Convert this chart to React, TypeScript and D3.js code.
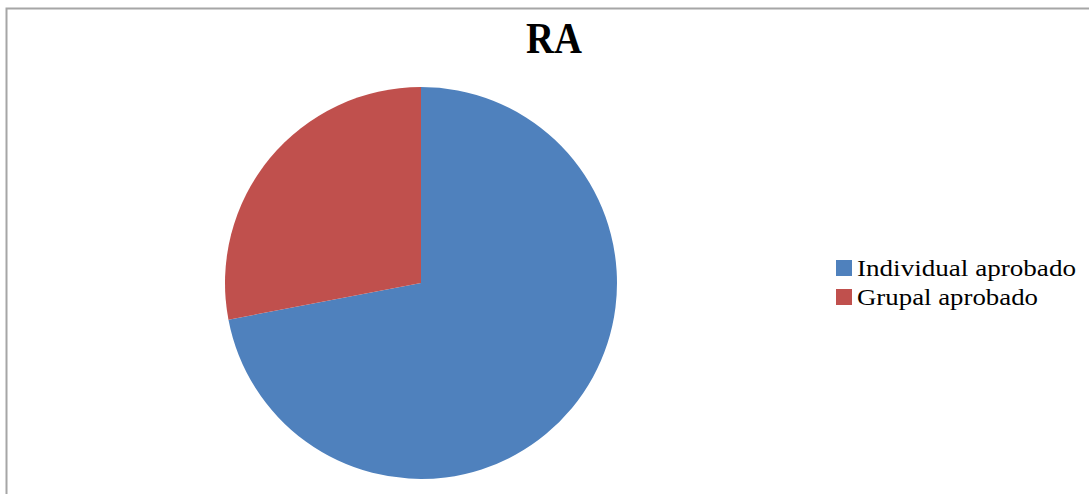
import React from "react";
import * as d3 from "d3";

const categories = ["Individual aprobado", "Grupal aprobado"];
const values = [72, 28];
const colors = ["#4F81BD", "#C0504D"];
const title = "RA";

export default function App() {
  const W = 1089, H = 494;
  const cx = 421, cy = 283, r = 196;
  const pie = d3.pie<number>().sort(null).startAngle(0).endAngle(2 * Math.PI);
  const arcs = pie(values);
  const arcGen = d3.arc<d3.PieArcDatum<number>>().innerRadius(0).outerRadius(r);
  const legendY = d3.scaleBand<string>().domain(categories).range([258, 316]);
  return (
    <svg width={W} height={H} style={{ position: "absolute", left: 0, top: 0, background: "#fff" }}>
      <rect x={6.5} y={8.5} width={W} height={H} fill="#fff" stroke="#a6a6a6" strokeWidth={2} />
      <text x={554} y={53} textAnchor="middle" fontFamily="'Liberation Serif', serif" fontWeight="bold" fontSize={44} fill="#000"
        textLength={56} lengthAdjust="spacingAndGlyphs">{title}</text>
      <g transform={`translate(${cx},${cy})`}>
        {arcs.map((a, i) => (
          <path key={i} d={arcGen(a) || ""} fill={colors[i]} />
        ))}
      </g>
      {categories.map((c, i) => {
        const y = legendY(c)!;
        return (
          <g key={c}>
            <rect x={836} y={y + 2} width={16} height={16} fill={colors[i]} />
            <text x={857} y={y + 18} fontFamily="'Liberation Serif', serif" fontSize={24} fill="#000"
              textLength={i === 0 ? 219 : 181} lengthAdjust="spacingAndGlyphs">{c}</text>
          </g>
        );
      })}
    </svg>
  );
}
